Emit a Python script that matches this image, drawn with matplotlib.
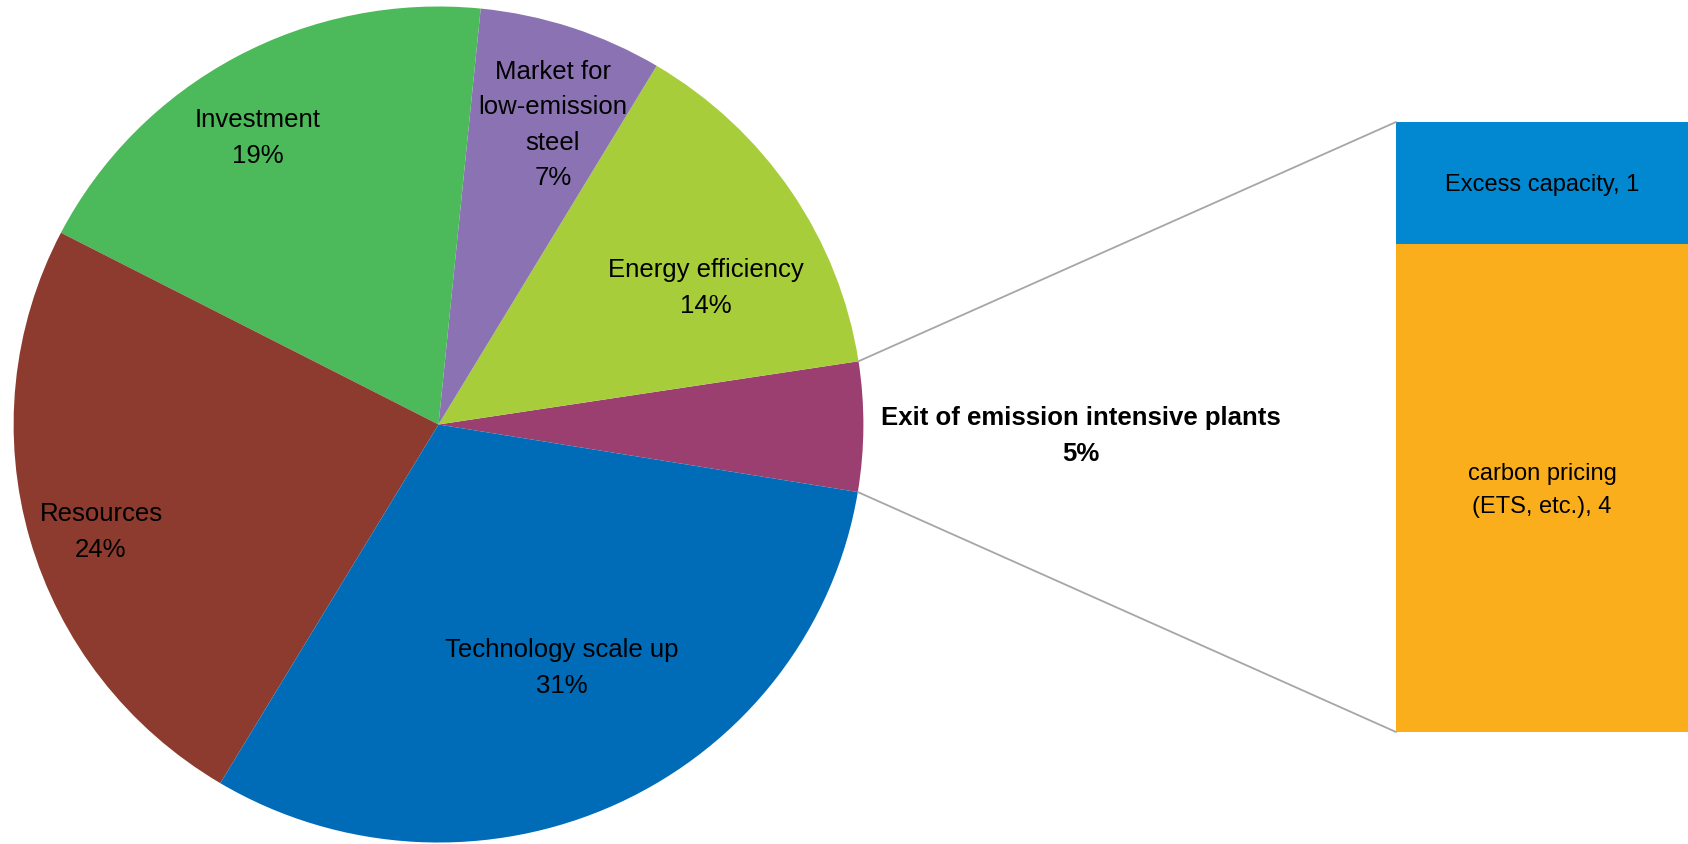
import matplotlib.pyplot as plt
from matplotlib.patches import ConnectionPatch
import numpy as np

plt.rcParams['font.family'] = ['Liberation Sans', 'DejaVu Sans']

# pie slices, counter-clockwise starting from the right-hand slice
slices = ["Exit of emission intensive plants", "Energy efficiency",
          "Market for\nlow-emission\nsteel", "Investment", "Resources",
          "Technology scale up"]
shares = [5, 14, 7, 19, 24, 31]
pie_colors = ["#9A3F6F", "#A8CD3B", "#8B73B3", "#4CB95A", "#8D3B2E", "#006BB7"]

# breakdown of the exit slice
bar_labels = ["carbon pricing\n(ETS, etc.)", "Excess capacity"]
bar_values = [4, 1]
bar_colors = ["#FBAE1B", "#0288D1"]

W, H = 1688, 844
sx = 1.0165  # pie is slightly wider than tall
fig = plt.figure(figsize=(W / 100, H / 100), dpi=100)
ax = fig.add_axes([0, 0, 1, 1])

cx, cy, rad = 438.5 / sx, 419.5, 418
start = -9.3
wedges, _ = ax.pie(shares, colors=pie_colors, startangle=start, counterclock=True,
                   center=(cx, cy), radius=rad, wedgeprops=dict(linewidth=0))
ax.set_xlim(0, W / sx)
ax.set_ylim(0, H)
ax.set_aspect('auto')
ax.axis('off')

# label spots: (x, y) in figure pixels, y measured upwards
label_pos = [(1081, 408), (706, 556), (553, 719), (258, 706), (101, 312), (562, 176)]
for i, (name, val) in enumerate(zip(slices, shares)):
    x, y = label_pos[i]
    ax.text(x / sx, y, "{}\n{}%".format(name, val), ha='center', va='center',
            fontsize=18.5, linespacing=1.58,
            fontweight='bold' if i == 0 else 'normal', color='black')

# stacked bar for the exit slice
bx = fig.add_axes([1396 / W, (H - 732) / H, (W - 1396) / W, (732 - 122) / H])
bottom = 0
for lab, val, col in zip(bar_labels, bar_values, bar_colors):
    bx.bar(0, val, width=1, bottom=bottom, color=col, linewidth=0)
    bx.text(0, bottom + val / 2 - 0.02, "{}, {}".format(lab, val), ha='center',
            va='center', fontsize=17, linespacing=1.6)
    bottom += val
bx.set_xlim(-0.5, 0.5)
bx.set_ylim(0, sum(bar_values))
bx.axis('off')

# connector lines from the exit slice to the bar
w = wedges[0]
for ang, yb in [(w.theta2, sum(bar_values)), (w.theta1, 0)]:
    px = cx + rad * np.cos(np.radians(ang))
    py = cy + rad * np.sin(np.radians(ang))
    con = ConnectionPatch(xyA=(px, py), coordsA=ax.transData,
                          xyB=(-0.5, yb), coordsB=bx.transData,
                          color="#A6A6A6", linewidth=1.3)
    fig.add_artist(con)

fig.savefig("out.png", dpi=100)
